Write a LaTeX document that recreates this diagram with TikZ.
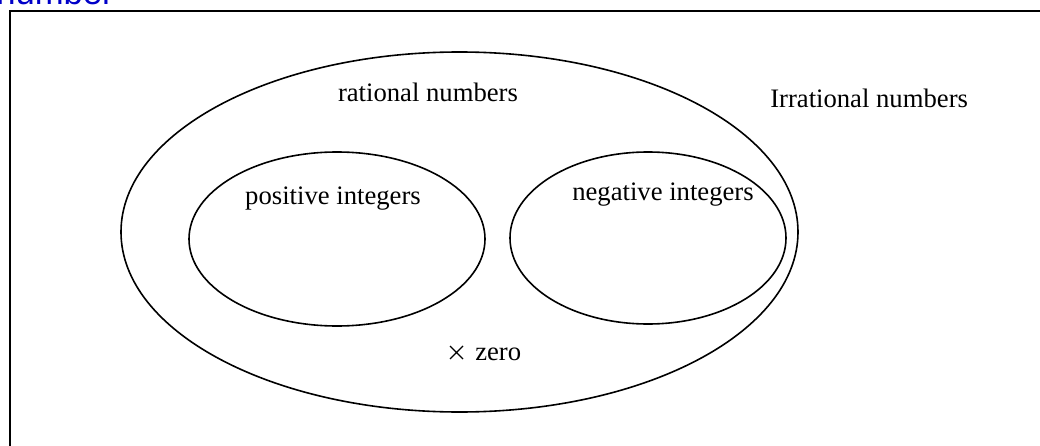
\documentclass[tikz,border=0pt]{standalone}
\usepackage{fontspec}
\setmainfont{Liberation Serif}
\newfontfamily\titlefont{Liberation Sans}
\definecolor{titleblue}{RGB}{0,0,200}
\begin{document}
\begin{tikzpicture}[x=0.75pt,y=-0.75pt,
  setline/.style={line width=1.2pt},
  lbl/.style={font=\fontsize{20}{24}\selectfont, anchor=base, inner sep=0pt}]
\useasboundingbox (0,0) rectangle (1040,446);
\node[font=\titlefont\fontsize{26}{30}\selectfont, text=titleblue, anchor=base west, inner sep=0pt] (title) at (-4,5) {number};
\draw[line width=1.5pt] (10,460) -- (10,11) -- (1060,11);
\draw[setline] (459.5,232) ellipse [x radius=338.5, y radius=180];
\draw[setline] (337,239) ellipse [x radius=148, y radius=87];
\draw[setline] (648,238) ellipse [x radius=138, y radius=86];
\node[lbl] (rat) at (428,101) {rational numbers};
\node[lbl, anchor=base west] (irr) at (770,107) {Irrational numbers};
\node[lbl] (pos) at (333,204) {positive integers};
\node[lbl] (neg) at (663,200) {negative integers};
\node[lbl, anchor=base west] (zero) at (475,360) {zero};
\draw[line width=0.9pt] (450,346) -- (463,359) (450,359) -- (463,346);
\end{tikzpicture}
\end{document}
